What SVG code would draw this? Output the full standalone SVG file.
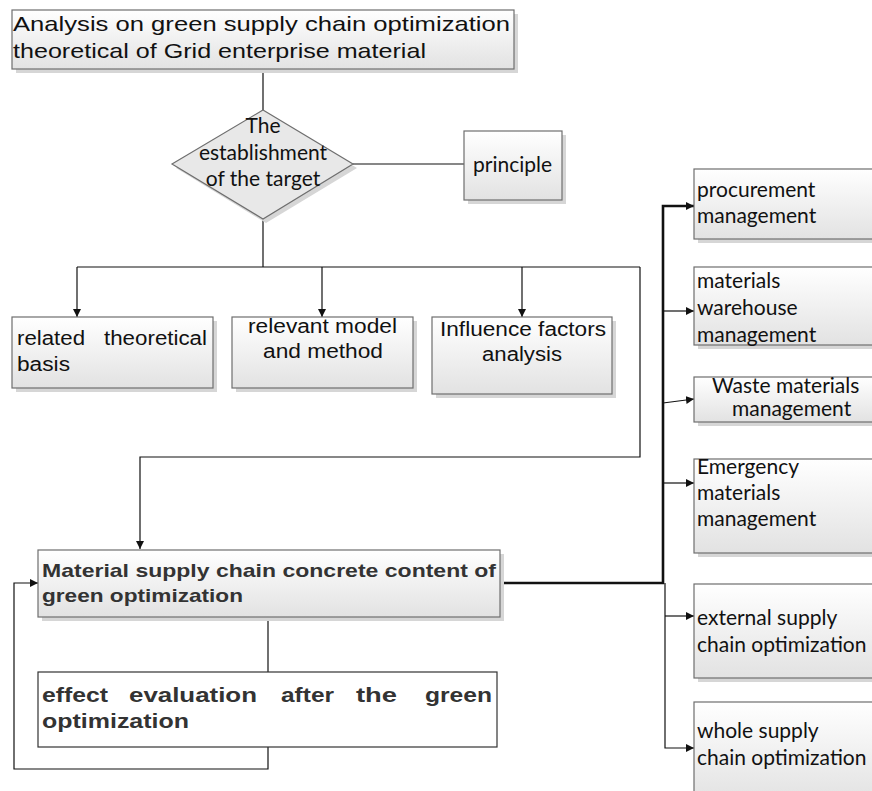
<svg xmlns="http://www.w3.org/2000/svg" width="872" height="791" viewBox="0 0 872 791">
<style>
.box{stroke:#6e6e6e;stroke-width:1.2;fill:url(#g)}
.sh{fill:#d6d6d6}
.plain{stroke:#333;stroke-width:1.2;fill:#fff}
.ar{font-family:"Liberation Sans",Arial,sans-serif;fill:#111}
.bd{font-family:"Liberation Sans",Arial,sans-serif;font-weight:bold;fill:#333}
.cb{font-family:Lato,"Open Sans",sans-serif;font-size:21px;fill:#111}
.ln{stroke:#111;stroke-width:1.2;fill:none}
.th{stroke:#111;stroke-width:2.6;fill:none}
</style>
<defs>
<linearGradient id="g" x1="0" y1="0" x2="0" y2="1">
<stop offset="0" stop-color="#ffffff"/>
<stop offset="1" stop-color="#e2e2e2"/>
</linearGradient>
<marker id="a" viewBox="0 0 10 10" refX="10" refY="5" markerWidth="8" markerHeight="8" markerUnits="userSpaceOnUse" orient="auto">
<path d="M0,0 L10,5 L0,10 Z" fill="#111"/>
</marker>
</defs>

<g id="connectors">
<path class="ln" d="M263,69 V110"/>
<path class="ln" d="M353,164 H464"/>
<path class="ln" d="M263,219 V267"/>
<path class="ln" d="M77,267 H640"/>
<path class="ln" d="M77,267 V317" marker-end="url(#a)"/>
<path class="ln" d="M322,267 V317" marker-end="url(#a)"/>
<path class="ln" d="M522,267 V317" marker-end="url(#a)"/>
<path class="ln" d="M640,267 V457 H140 V549" marker-end="url(#a)"/>
<path class="ln" d="M268,617 V672"/>
<path class="ln" d="M268,747 V769 H14 V583 H38" marker-end="url(#a)"/>
<path class="th" d="M500,583 H663 V206 H694" marker-end="url(#a)"/>
<path class="ln" d="M665,583 V748 H694" marker-end="url(#a)"/>
<path class="ln" d="M663,311 H694" marker-end="url(#a)"/>
<path class="ln" d="M663,403 L694,399" marker-end="url(#a)"/>
<path class="ln" d="M663,483 H694" marker-end="url(#a)"/>
<path class="ln" d="M665,616 H694" marker-end="url(#a)"/>
</g>

<g id="title">
<rect class="sh" x="16" y="14" width="502" height="59"/>
<rect class="box" x="12" y="10" width="502" height="59"/>
<text class="ar" font-size="21" x="13" y="31" textLength="497" lengthAdjust="spacingAndGlyphs">Analysis on green supply chain optimization</text>
<text class="ar" font-size="21" x="13" y="58" textLength="413" lengthAdjust="spacingAndGlyphs">theoretical of Grid enterprise material</text>
</g>

<g id="target">
<polygon points="266,114 357,168 266,223 176,168" fill="#d6d6d6"/>
<polygon points="263,110 353,164 263,219 172,164" fill="#e8e8e8" stroke="#6e6e6e" stroke-width="1.2"/>
<text class="cb" text-anchor="middle" x="263" y="133">The</text>
<text class="cb" text-anchor="middle" x="263" y="160">establishment</text>
<text class="cb" text-anchor="middle" x="263" y="186">of the target</text>
</g>

<g id="principle">
<rect class="sh" x="468" y="135" width="98" height="69"/>
<rect class="box" x="464" y="131" width="98" height="69"/>
<text class="cb" x="473" y="172">principle</text>
</g>

<g id="related">
<rect class="sh" x="16" y="321" width="201" height="71"/>
<rect class="box" x="12" y="317" width="201" height="71"/>
<text class="ar" font-size="20" y="345"><tspan x="17" textLength="68" lengthAdjust="spacingAndGlyphs">related</tspan><tspan x="104" textLength="103" lengthAdjust="spacingAndGlyphs">theoretical</tspan></text>
<text class="ar" font-size="20" x="17" y="371" textLength="53" lengthAdjust="spacingAndGlyphs">basis</text>
</g>

<g id="relevant">
<rect class="sh" x="236" y="321" width="181" height="71"/>
<rect class="box" x="232" y="317" width="181" height="71"/>
<text class="ar" font-size="20" x="248" y="333" textLength="149" lengthAdjust="spacingAndGlyphs">relevant model</text>
<text class="ar" font-size="20" x="263" y="358" textLength="120" lengthAdjust="spacingAndGlyphs">and method</text>
</g>

<g id="influence">
<rect class="sh" x="436" y="321" width="180" height="77"/>
<rect class="box" x="432" y="317" width="180" height="77"/>
<text class="ar" font-size="20" x="440" y="336" textLength="166" lengthAdjust="spacingAndGlyphs">Influence factors</text>
<text class="ar" font-size="20" x="482" y="361" textLength="80" lengthAdjust="spacingAndGlyphs">analysis</text>
</g>

<g id="material">
<rect class="sh" x="42" y="554" width="462" height="67"/>
<rect class="box" x="38" y="550" width="462" height="67"/>
<text class="bd" font-size="19" x="42" y="577" textLength="454" lengthAdjust="spacingAndGlyphs">Material supply chain concrete content of</text>
<text class="bd" font-size="19" x="42" y="602" textLength="201" lengthAdjust="spacingAndGlyphs">green optimization</text>
</g>

<g id="effect">
<rect class="plain" x="38" y="672" width="459" height="75"/>
<text class="bd" font-size="21" y="702"><tspan x="42" textLength="66" lengthAdjust="spacingAndGlyphs">effect</tspan><tspan x="129" textLength="128" lengthAdjust="spacingAndGlyphs">evaluation</tspan><tspan x="281" textLength="53" lengthAdjust="spacingAndGlyphs">after</tspan><tspan x="356" textLength="41" lengthAdjust="spacingAndGlyphs">the</tspan><tspan x="425" textLength="67" lengthAdjust="spacingAndGlyphs">green</tspan></text>
<text class="bd" font-size="21" x="42" y="728" textLength="147" lengthAdjust="spacingAndGlyphs">optimization</text>
</g>

<g id="procurement">
<rect class="sh" x="698" y="173" width="200" height="70"/>
<rect class="box" x="694" y="169" width="200" height="70"/>
<text class="cb" x="697" y="197">procurement</text>
<text class="cb" x="697" y="223">management</text>
</g>

<g id="warehouse">
<rect class="sh" x="698" y="271" width="200" height="78"/>
<rect class="box" x="694" y="267" width="200" height="78"/>
<text class="cb" x="697" y="288">materials</text>
<text class="cb" x="697" y="315">warehouse</text>
<text class="cb" x="697" y="342">management</text>
</g>

<g id="waste">
<rect class="sh" x="698" y="381" width="200" height="45"/>
<rect class="box" x="694" y="377" width="200" height="45"/>
<text class="cb" font-size="20" x="712" y="393">Waste materials</text>
<text class="cb" font-size="20" x="732" y="416">management</text>
</g>

<g id="emergency">
<rect class="sh" x="698" y="463" width="200" height="94"/>
<rect class="box" x="694" y="459" width="200" height="94"/>
<text class="cb" x="697" y="474">Emergency</text>
<text class="cb" x="697" y="500">materials</text>
<text class="cb" x="697" y="526">management</text>
</g>

<g id="external">
<rect class="sh" x="698" y="588" width="200" height="94"/>
<rect class="box" x="694" y="584" width="200" height="94"/>
<text class="cb" x="697" y="625">external supply</text>
<text class="cb" x="697" y="652">chain optimization</text>
</g>

<g id="whole">
<rect class="sh" x="698" y="706" width="200" height="100"/>
<rect class="box" x="694" y="702" width="200" height="100"/>
<text class="cb" x="697" y="738">whole supply</text>
<text class="cb" x="697" y="765">chain optimization</text>
</g>
</svg>
